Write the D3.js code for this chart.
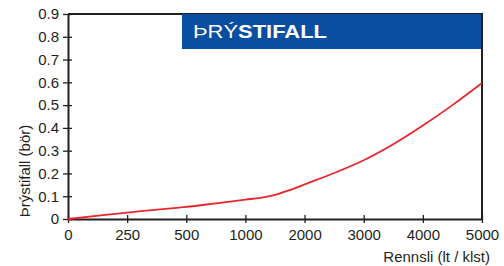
<!DOCTYPE html>
<html>
<head>
<meta charset="utf-8">
<script src="https://cdn.jsdelivr.net/npm/d3@7"></script>
<style>
  body { margin: 0; background: #fff; }
  text { font-family: "Liberation Sans", Arial, sans-serif; }
</style>
</head>
<body>
<div class="canvas"></div>
<script>
// gögn lesin af myndinni
const xTicks = [0, 250, 500, 1000, 2000, 3000, 4000, 5000];
const yTicks = [0, 0.1, 0.2, 0.3, 0.4, 0.5, 0.6, 0.7, 0.8, 0.9];
const flow = [0, 250, 500, 750, 1000, 1250, 1500, 1750, 2000, 2500, 3000, 3500, 4000, 4500, 5000];
const drop = [0, 0.028, 0.053, 0.069, 0.085, 0.093, 0.106, 0.127, 0.152, 0.202, 0.258, 0.328, 0.41, 0.5, 0.597];
const title = ['ÞRÝ', 'STIFALL'];

const dims = { width: 504, height: 266 };
const plot = { left: 68, right: 482, top: 14, bottom: 219 };
const ink = '#231f20';
const fs = 15;

const svg = d3.select('.canvas')
    .append('svg')
    .attr('width', dims.width)
    .attr('height', dims.height);

// x ásinn er ekki línulegur: jafnt bil milli merkja
const x = d3.scaleLinear()
    .domain(xTicks)
    .range(xTicks.map((d, i) => plot.left + i * (plot.right - plot.left) / (xTicks.length - 1)));

const y = d3.scaleLinear()
    .domain([0, 0.9])
    .range([plot.bottom, plot.top]);

// rammi (efri og hægri lína)
svg.append('path')
    .attr('d', `M${plot.left},${plot.top}H${plot.right}V${plot.bottom}`)
    .attr('fill', 'none')
    .attr('stroke', ink)
    .attr('stroke-width', 2);

// titilkassi
svg.append('rect')
    .attr('x', 182)
    .attr('y', plot.top)
    .attr('width', plot.right - 1 - 182)
    .attr('height', 35)
    .attr('fill', '#0a4ea1');

const t = svg.append('text')
    .attr('x', 193)
    .attr('y', 38)
    .attr('fill', '#fff')
    .attr('font-size', 18)
    .attr('textLength', 134)
    .attr('lengthAdjust', 'spacingAndGlyphs');
t.append('tspan').attr('font-weight', 400).text(title[0]);
t.append('tspan').attr('font-weight', 700).text(title[1]);

// ásar
const xAxis = svg.append('g')
    .attr('transform', `translate(0,${plot.bottom})`)
    .call(d3.axisBottom(x).tickValues(xTicks).tickFormat(d3.format('d')).tickSize(4).tickSizeOuter(0));

const yAxis = svg.append('g')
    .attr('transform', `translate(${plot.left},0)`)
    .call(d3.axisLeft(y).tickValues(yTicks).tickFormat(d => d === 0 ? '0' : d3.format('.1f')(d)).tickSize(4).tickSizeOuter(0));

[xAxis, yAxis].forEach(g => {
    g.select('.domain').attr('stroke', ink).attr('stroke-width', 2);
    g.selectAll('.tick line').attr('stroke', ink).attr('stroke-width', 1.3);
    g.selectAll('.tick text')
        .attr('fill', ink)
        .attr('font-size', fs)
        .attr('font-family', '"Liberation Sans", Arial, sans-serif');
});
xAxis.selectAll('.tick line').attr('y1', -4);
xAxis.selectAll('.tick text').attr('y', 10);
yAxis.selectAll('.tick line').attr('x1', 4).attr('x2', -5);
yAxis.selectAll('.tick text').attr('x', -9);

// ferill
const line = d3.line()
    .x((d, i) => x(flow[i]))
    .y(d => y(d))
    .curve(d3.curveCatmullRom.alpha(0.5));

svg.append('path')
    .datum(drop)
    .attr('d', line)
    .attr('fill', 'none')
    .attr('stroke', '#e8262d')
    .attr('stroke-width', 1.8);

// ásaheiti
svg.append('text')
    .attr('x', 490)
    .attr('y', 262)
    .attr('text-anchor', 'end')
    .attr('font-size', fs)
    .attr('fill', ink)
    .text('Rennsli (lt / klst)');

svg.append('text')
    .attr('transform', 'translate(30,171) rotate(-90)')
    .attr('text-anchor', 'middle')
    .attr('font-size', fs)
    .attr('fill', ink)
    .text('Þrýstifall (bör)');
</script>
</body>
</html>
